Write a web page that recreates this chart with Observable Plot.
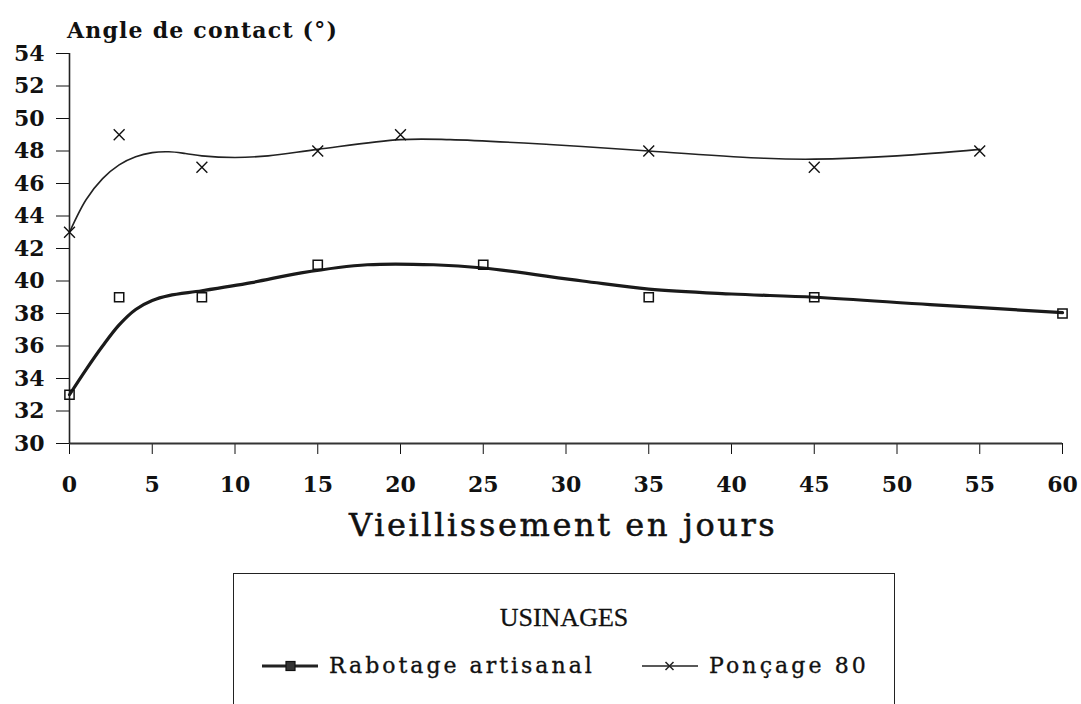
<!DOCTYPE html>
<html>
<head>
<meta charset="utf-8">
<script src="https://cdn.jsdelivr.net/npm/d3@7"></script>
<script src="https://cdn.jsdelivr.net/npm/@observablehq/plot@0.6"></script>
<style>
  html, body { margin: 0; padding: 0; background: #fff; }
  #wrap { position: relative; width: 1081px; height: 704px; overflow: hidden; }
  #chart { position: absolute; left: 0; top: 0; }
  #ytitle { position: absolute; left: 67px; top: 18.5px; line-height: 22px; white-space: nowrap;
            font-family: "DejaVu Serif", serif; font-weight: bold; font-size: 22px; letter-spacing: 1.2px; color: #111; }
  #xtitle { position: absolute; left: 349px; top: 509px; line-height: 32px; white-space: nowrap;
            font-family: "DejaVu Serif", serif; font-size: 32px; letter-spacing: 2.6px; color: #111;
            -webkit-text-stroke: 0.5px #111; }
  #legend { position: absolute; left: 233px; top: 573px; width: 662px; height: 200px;
            border: 1.6px solid #222; box-sizing: border-box; }
  .ltitle { position: absolute; left: 0; width: 100%; top: 29px; text-align: center;
            font-family: "Liberation Serif", serif; font-size: 26px; color: #111; -webkit-text-stroke: 0.3px #111; }
  .litem { position: absolute; top: 79px; display: flex; align-items: center; white-space: nowrap;
           font-family: "DejaVu Serif", serif; font-size: 22px; color: #111; -webkit-text-stroke: 0.35px #111; }
  .litem svg { margin-right: 11px; }
</style>
</head>
<body>
<div id="wrap">
  <div id="chart"></div>
  <div id="ytitle"></div>
  <div id="xtitle"></div>
  <div id="legend">
    <div class="ltitle">USINAGES</div>
    <div class="litem" style="left:28px; letter-spacing: 3px">
      <svg width="56" height="20"><line x1="0" y1="10" x2="56" y2="10" stroke="#222" stroke-width="3"/><rect x="24" y="5.5" width="9" height="9" fill="#333" stroke="#111" stroke-width="1.2"/></svg>
      <span id="lab1"></span>
    </div>
    <div class="litem" style="left:408px; letter-spacing: 3.1px">
      <svg width="56" height="20"><line x1="0" y1="10" x2="56" y2="10" stroke="#222" stroke-width="1.5"/><path d="M23.5,6 L31.5,14 M31.5,6 L23.5,14" stroke="#222" stroke-width="1.5"/></svg>
      <span id="lab2"></span>
    </div>
  </div>
</div>
<script>
// Measured points
const days = [0, 3, 8, 15, 25, 35, 45, 60];
const rabotage = [33, 39, 39, 41, 41, 39, 39, 38];
const daysPoncage = [0, 3, 8, 15, 20, 35, 45, 55];
const poncage = [43, 49, 47, 48, 49, 48, 47, 48];

// Fitted smooth curves
const rabCurveX = [0, 1, 2, 3, 4, 5, 6, 8, 11, 14, 18, 22, 25, 31, 35, 40, 45, 52, 60];
const rabCurveY = [33, 34.55, 36.0, 37.3, 38.25, 38.8, 39.1, 39.4, 39.9, 40.5, 41.0, 41.0, 40.8, 40.0, 39.5, 39.2, 39.0, 38.55, 38.05];
const ponCurveX = [0, 1, 2, 3, 4, 5, 6, 7, 8, 10, 12, 15, 20, 23, 29, 35, 42, 45, 50, 55];
const ponCurveY = [43, 45.0, 46.3, 47.15, 47.65, 47.9, 47.95, 47.85, 47.7, 47.6, 47.7, 48.1, 48.7, 48.7, 48.4, 48.0, 47.55, 47.5, 47.7, 48.1];

const xTicks = [0, 5, 10, 15, 20, 25, 30, 35, 40, 45, 50, 55, 60];
const yTicks = [30, 32, 34, 36, 38, 40, 42, 44, 46, 48, 50, 52, 54];
const yTitle = "Angle de contact (°)";
const xTitle = "Vieillissement en jours";
const legendTitle = "USINAGES";
const seriesNames = ["Rabotage artisanal", "Ponçage 80"];

document.getElementById("ytitle").textContent = yTitle;
document.getElementById("xtitle").textContent = xTitle;
document.querySelector(".ltitle").textContent = legendTitle;
document.getElementById("lab1").textContent = seriesNames[0];
document.getElementById("lab2").textContent = seriesNames[1];

const rabPts = days.map((d, i) => ({x: d, y: rabotage[i]}));
const ponPts = daysPoncage.map((d, i) => ({x: d, y: poncage[i]}));
const rabCurve = rabCurveX.map((d, i) => ({x: d, y: rabCurveY[i]}));
const ponCurve = ponCurveX.map((d, i) => ({x: d, y: ponCurveY[i]}));

const chart = Plot.plot({
  width: 1081,
  height: 560,
  marginLeft: 69,
  marginRight: 19,
  marginTop: 53,
  marginBottom: 117,
  style: {background: "#fff", color: "#111"},
  x: {domain: [0, 60]},
  y: {domain: [30, 54]},
  marks: [
    Plot.axisX({ticks: xTicks, tickSize: 11, tickPadding: 22, label: null,
      fontSize: 22, fontWeight: "bold", fontFamily: "DejaVu Serif", fill: "#111"}),
    Plot.axisY({ticks: yTicks, tickSize: 13, tickPadding: 12, label: null,
      fontSize: 22, fontWeight: "bold", fontFamily: "DejaVu Serif", fill: "#111"}),
    Plot.ruleY([30], {stroke: "#333", strokeWidth: 1.8}),
    Plot.ruleX([0], {stroke: "#222", strokeWidth: 1.6}),
    Plot.line(ponCurve, {x: "x", y: "y", curve: "catmull-rom", stroke: "#222", strokeWidth: 1.6}),
    Plot.line(rabCurve, {x: "x", y: "y", curve: "catmull-rom", stroke: "#1a1a1a", strokeWidth: 3.2}),
    Plot.dot(rabPts, {x: "x", y: "y", symbol: "square", r: 5.2, stroke: "#111", strokeWidth: 1.5, fill: "none"}),
    Plot.dot(ponPts, {x: "x", y: "y", symbol: "times", r: 5, stroke: "#111", strokeWidth: 1.4})
  ]
});
document.getElementById("chart").appendChild(chart);
</script>
</body>
</html>
